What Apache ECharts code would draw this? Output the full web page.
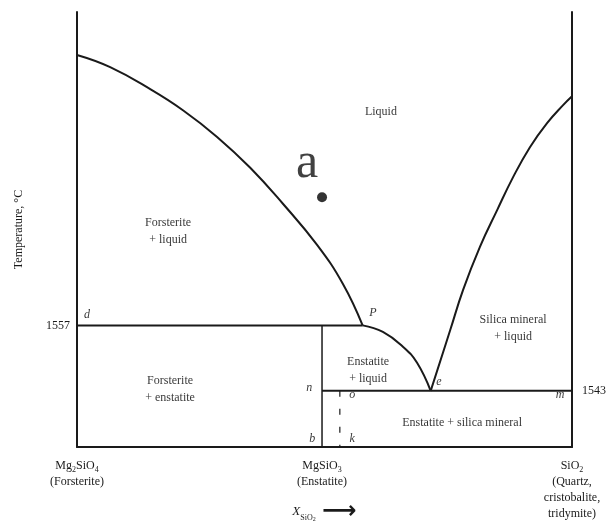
<!DOCTYPE html>
<html>
<head>
<meta charset="utf-8">
<script src="https://cdn.jsdelivr.net/npm/echarts@6.0.0/dist/echarts.min.js"></script>
<style>
  html, body { margin: 0; padding: 0; background: #fff; }
  #chart { width: 613px; height: 526px; }
</style>
</head>
<body>
<div id="chart"></div>
<script>
// x: mole fraction SiO2 between Mg2SiO4 (0) and SiO2 (1); y: temperature, degC (schematic)
const tMin = 1531;
const tMax = 1624;
const enstatiteX = 0.495;
const pX = 0.577;
const eX = 0.7145;

const forsteriteLiquidus = [[0, 1614.8], [0.067, 1612.2], [0.148, 1607.5], [0.214, 1603.0], [0.283, 1597.3], [0.350, 1590.7], [0.416, 1583.0], [0.485, 1574.2], [0.537, 1565.9], [pX, 1557]];
const enstatiteLiquidus = [[pX, 1557], [0.618, 1555.6], [0.659, 1552.4], [0.687, 1549.0], [eX, 1543]];
const silicaLiquidus = [[eX, 1543], [0.754, 1556.0], [0.780, 1564.6], [0.814, 1573.8], [0.849, 1581.7], [0.881, 1588.7], [0.915, 1595.1], [0.950, 1600.3], [0.982, 1604.1], [1, 1606.0]];
const peritecticLine = [[0, 1557], [pX, 1557]];
const eutecticLine = [[enstatiteX, 1543], [1, 1543]];
const enstatiteLine = [[enstatiteX, 1557], [enstatiteX, tMin]];
const isoplethLine = [[0.531, 1543], [0.531, tMin]];
const pointA = [[enstatiteX, 1584.4]];

const xTickValues = [0, enstatiteX, 1];
const xTickLabels = [
  '{t|Mg}{s|2}{t|SiO}{s|4}\n{t|(Forsterite)}',
  '{t|MgSiO}{s|3}\n{t|(Enstatite)}',
  '{t|SiO}{s|2}\n{t|(Quartz,}\n{t|cristobalite,}\n{t|tridymite)}'
];
const leftTicks = [1557];
const rightTicks = [1543];

const regionLabels = [
  [0.614, 1602.6, 'Liquid'],
  [0.184, 1577.0, 'Forsterite\n+ liquid'],
  [0.188, 1543.4, 'Forsterite\n+ enstatite'],
  [0.588, 1547.3, 'Enstatite\n+ liquid'],
  [0.881, 1556.3, 'Silica mineral\n+ liquid'],
  [0.778, 1536.2, 'Enstatite + silica mineral']
];
const pointLetters = [
  [0.020, 1559.2, 'd'],
  [0.598, 1559.7, 'P'],
  [0.731, 1545.0, 'e'],
  [0.469, 1543.6, 'n'],
  [0.976, 1542.2, 'm'],
  [0.556, 1542.2, 'o'],
  [0.475, 1532.7, 'b'],
  [0.556, 1532.7, 'k']
];

const ink = '#1a1a1a';
const serif = 'Liberation Serif';

function lineSeries(data, extra) {
  return Object.assign({
    type: 'line',
    data: data,
    showSymbol: false,
    symbol: 'none',
    lineStyle: { color: ink, width: 2 },
    silent: true
  }, extra || {});
}

const option = {
  animation: false,
  grid: { left: 77, right: 41, top: 12, bottom: 79, outerBoundsMode: 'none', containLabel: false },
  xAxis: {
    type: 'value',
    min: 0,
    max: 1,
    splitLine: { show: false },
    axisTick: { show: false },
    axisLine: { lineStyle: { color: ink, width: 2 } },
    axisLabel: {
      customValues: xTickValues,
      hideOverlap: false,
      margin: 11,
      color: ink,
      fontFamily: serif,
      fontSize: 12,
      lineHeight: 16,
      formatter: function (v) {
        const i = xTickValues.indexOf(v);
        return i >= 0 ? xTickLabels[i] : '';
      },
      rich: {
        t: { fontFamily: serif, fontSize: 12, lineHeight: 16, color: ink },
        s: { fontFamily: serif, fontSize: 8, lineHeight: 16, verticalAlign: 'bottom', color: ink }
      }
    },
    name: '{x|X}{s|SiO}{s2|2}  {a|⟶}',
    nameLocation: 'middle',
    nameGap: 55,
    nameMoveOverlap: false,
    nameTextStyle: {
      rich: {
        x: { fontFamily: serif, fontStyle: 'italic', fontSize: 13, color: ink, lineHeight: 20 },
        s: { fontFamily: serif, fontSize: 8, color: ink, verticalAlign: 'bottom', lineHeight: 20 },
        s2: { fontFamily: serif, fontSize: 6, color: ink, verticalAlign: 'bottom', lineHeight: 18 },
        a: { fontFamily: 'DejaVu Sans', fontSize: 24, fontWeight: 'bold', color: ink, lineHeight: 20 }
      }
    }
  },
  yAxis: [
    {
      type: 'value',
      min: tMin,
      max: tMax,
      position: 'left',
      splitLine: { show: false },
      axisTick: { show: false },
      axisLine: { show: true, lineStyle: { color: ink, width: 2 } },
      axisLabel: {
        customValues: leftTicks,
        formatter: function (v) { return String(v); },
        color: ink,
        fontFamily: serif,
        fontSize: 12,
        margin: 7
      },
      name: 'Temperature, °C',
      nameLocation: 'middle',
      nameRotate: 90,
      nameGap: 52,
      nameMoveOverlap: false,
      nameTextStyle: { fontFamily: serif, fontSize: 12, color: ink }
    },
    {
      type: 'value',
      min: tMin,
      max: tMax,
      position: 'right',
      splitLine: { show: false },
      axisTick: { show: false },
      axisLine: { show: true, lineStyle: { color: ink, width: 2 } },
      axisLabel: {
        customValues: rightTicks,
        formatter: function (v) { return String(v); },
        color: ink,
        fontFamily: serif,
        fontSize: 12,
        margin: 10
      }
    }
  ],
  series: [
    lineSeries(forsteriteLiquidus, { smooth: 0.45 }),
    lineSeries(enstatiteLiquidus, { smooth: 0.45 }),
    lineSeries(silicaLiquidus, { smooth: 0.45 }),
    lineSeries(peritecticLine),
    lineSeries(eutecticLine),
    lineSeries(enstatiteLine, { lineStyle: { color: ink, width: 1.5 } }),
    lineSeries(isoplethLine, { lineStyle: { color: ink, width: 1.2, type: [6, 12] } }),
    {
      type: 'scatter',
      data: pointA,
      symbol: 'circle',
      symbolSize: 10,
      itemStyle: { color: '#000' },
      label: {
        show: true,
        position: 'top',
        distance: 3,
        formatter: 'a',
        fontFamily: serif,
        fontSize: 50,
        color: '#111',
        offset: [-15, 0]
      },
      silent: true
    },
    {
      type: 'scatter',
      symbolSize: 0,
      data: regionLabels.map(function (d) { return { value: [d[0], d[1]], name: d[2] }; }),
      label: {
        show: true,
        position: 'inside',
        formatter: function (p) { return p.name; },
        fontFamily: serif,
        fontSize: 12,
        lineHeight: 17,
        color: '#000',
        align: 'center'
      },
      silent: true
    },
    {
      type: 'scatter',
      symbolSize: 0,
      data: pointLetters.map(function (d) { return { value: [d[0], d[1]], name: d[2] }; }),
      label: {
        show: true,
        position: 'inside',
        formatter: function (p) { return p.name; },
        fontFamily: serif,
        fontStyle: 'italic',
        fontSize: 12,
        color: '#000'
      },
      silent: true
    }
  ]
};

const chart = echarts.init(document.getElementById('chart'));
chart.setOption(option);
</script>
</body>
</html>
